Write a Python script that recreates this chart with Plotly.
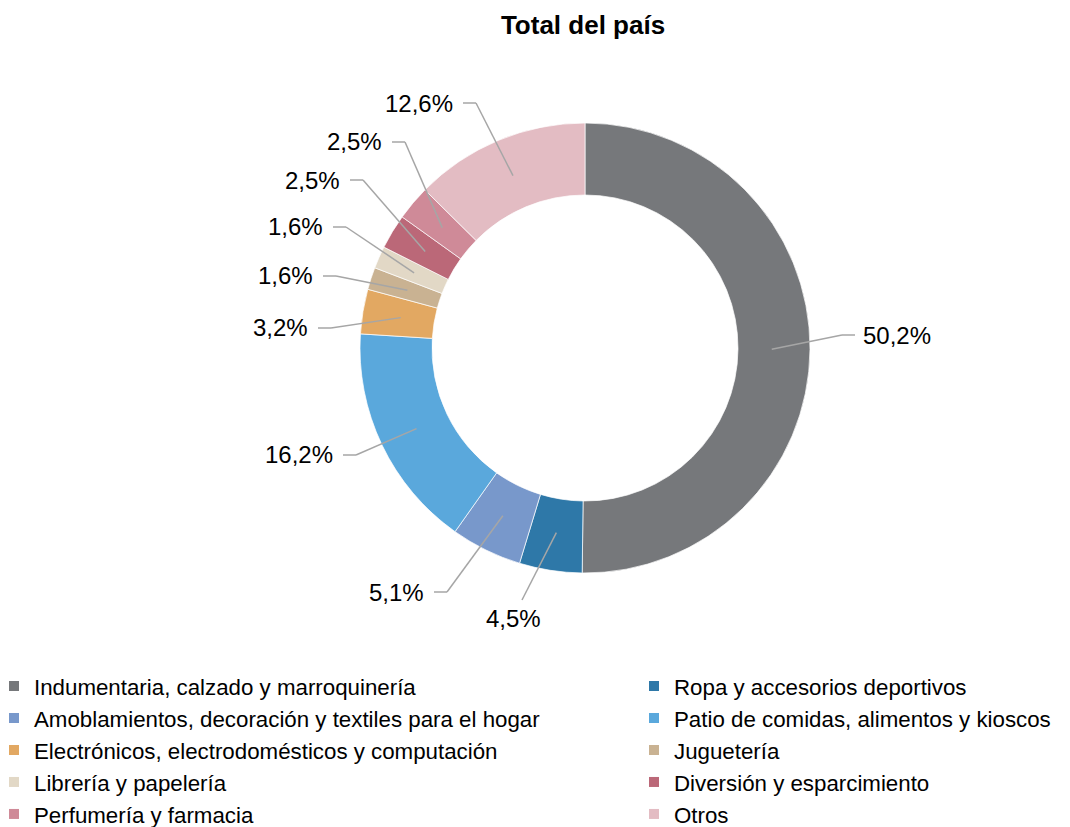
import math
import plotly.graph_objects as go

# data
categories = [
    "Indumentaria, calzado y marroquinería",
    "Ropa y accesorios deportivos",
    "Amoblamientos, decoración y textiles para el hogar",
    "Patio de comidas, alimentos y kioscos",
    "Electrónicos, electrodomésticos y computación",
    "Juguetería",
    "Librería y papelería",
    "Diversión y esparcimiento",
    "Perfumería y farmacia",
    "Otros",
]
shares = [50.2, 4.5, 5.1, 16.2, 3.2, 1.6, 1.6, 2.5, 2.5, 12.6]
colors = [
    "#76787B", "#2E78A8", "#7898CB", "#5AA8DC", "#E2A862",
    "#C9B292", "#E2D8C6", "#BB6878", "#CF8A98", "#E3BCC3",
]

# the page puts the figure 8px in from the top-left corner of the window
OFF = 8
W, H = 1070 - 2 * OFF, 827 - OFF
CX, CY, R = 585, 348, 225  # pie centre / radius, window px
HOLE = 0.68

# where each leader line ends next to its text (window px) and which side the text sits
label_pos = [
    (855, 335, "right"), (522, 600, "below"), (434, 592, "left"), (343, 455, "left"),
    (318, 328, "left"), (323, 276, "left"), (333, 227, "left"), (350, 180, "left"),
    (392, 142, "left"), (463, 103, "left"),
]


def px(x):
    return (x - OFF) / W


def py(y):
    return 1 - (y - OFF) / H


fig = go.Figure(go.Pie(
    labels=categories,
    values=shares,
    sort=False,
    direction="clockwise",
    rotation=0,
    hole=HOLE,
    marker=dict(colors=colors, line=dict(color="white", width=0.7)),
    textinfo="none",
    hoverinfo="label+percent",
    showlegend=False,
    domain=dict(x=[px(CX - R), px(CX + R)], y=[py(CY + R), py(CY - R)]),
))

# legend in two columns: left column gets even entries, right column odd ones
for i, (cat, col) in enumerate(zip(categories, colors)):
    fig.add_trace(go.Scatter(
        x=[None], y=[None], mode="markers", name=cat,
        marker=dict(symbol="square", size=10, color=col),
        legend="legend" if i % 2 == 0 else "legend2",
        hoverinfo="skip",
    ))

total = sum(shares)
cum = 0
shapes = []
annotations = []
line_style = dict(color="#A6A6A6", width=1.5)
for v, (lx, ly, side) in zip(shares, label_pos):
    mid = (cum + v / 2) / total * 2 * math.pi
    cum += v
    ax = CX + 0.83 * R * math.sin(mid)
    ay = CY - 0.83 * R * math.cos(mid)
    txt = f"{v:.1f}".replace(".", ",") + "%"
    if side == "below":
        shapes.append(dict(type="line", xref="paper", yref="paper",
                           x0=px(ax), y0=py(ay), x1=px(lx), y1=py(ly), line=line_style))
        annotations.append(dict(text=txt, xref="paper", yref="paper", x=px(lx - 9), y=py(ly + 3),
                                xanchor="center", yanchor="top", showarrow=False))
        continue
    step = -13 if side == "right" else 13
    ex = lx + step
    shapes.append(dict(type="line", xref="paper", yref="paper",
                       x0=px(lx), y0=py(ly), x1=px(ex), y1=py(ly), line=line_style))
    shapes.append(dict(type="line", xref="paper", yref="paper",
                       x0=px(ex), y0=py(ly), x1=px(ax), y1=py(ay), line=line_style))
    if side == "right":
        annotations.append(dict(text=txt, xref="paper", yref="paper", x=px(lx + 6), y=py(ly),
                                xanchor="left", yanchor="middle", showarrow=False))
    else:
        annotations.append(dict(text=txt, xref="paper", yref="paper", x=px(lx - 8), y=py(ly),
                                xanchor="right", yanchor="middle", showarrow=False))

legend_common = dict(
    orientation="v",
    xanchor="left", yanchor="top",
    y=py(665),
    font=dict(size=22.3, color="black"),
    itemsizing="trace",
    bgcolor="rgba(0,0,0,0)",
    tracegroupgap=0,
)

fig.update_layout(
    width=W, height=H,
    margin=dict(l=0, r=0, t=0, b=0, autoexpand=False),
    paper_bgcolor="white",
    plot_bgcolor="rgba(0,0,0,0)",
    xaxis=dict(visible=False),
    yaxis=dict(visible=False),
    font=dict(family="Liberation Sans, Arial", size=24, color="black"),
    title=dict(text="<b>Total del país</b>", x=px(583), y=py(25), xanchor="center", yanchor="middle",
               font=dict(size=26, color="black")),
    shapes=shapes,
    annotations=annotations,
    showlegend=True,
    legend=dict(x=px(-6), **legend_common),
    legend2=dict(x=px(634), **legend_common),
)

fig.write_html("out.html")
